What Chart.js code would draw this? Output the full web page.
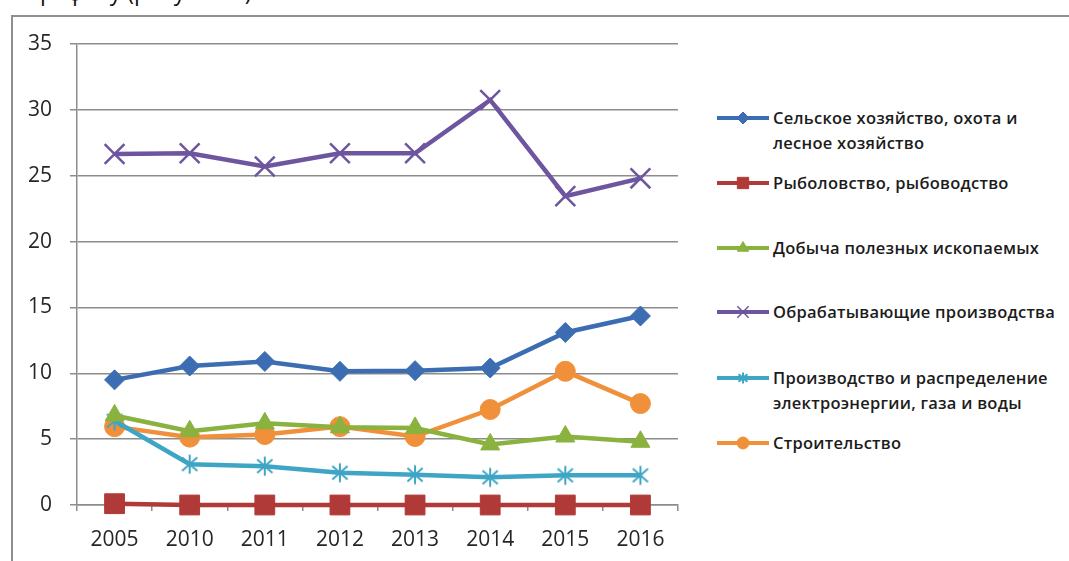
<!DOCTYPE html>
<html>
<head>
<meta charset="utf-8">
<script src="https://cdn.jsdelivr.net/npm/chart.js@4/dist/chart.umd.min.js"></script>
<style>
    html, body { margin: 0; padding: 0; background: #fff; }
    body { width: 1069px; height: 561px; position: relative; overflow: hidden; font-family: 'Open Sans', sans-serif; }
    #topText { position: absolute; left: 30px; top: -25px; font-size: 23px; color: #111; white-space: nowrap; }
    #frame { position: absolute; left: 11px; top: 15px; width: 1100px; height: 600px;
        border-top: 2px solid #8f8f8f; border-left: 2px solid #8f8f8f; }
    #chartBox { position: absolute; left: 0; top: 0; width: 700px; height: 561px; }
    #legend { position: absolute; left: 0; top: 0; }
    .item { position: absolute; left: 716px; display: flex; align-items: flex-start; }
    .item canvas { display: block; margin-top: 2px; }
    .item span { margin-left: 3px; font-size: 16.5px; letter-spacing: 0.25px; font-weight: 600; line-height: 25px; color: #1c1c1c; white-space: nowrap; }
</style>
</head>
<body>
<div id="topText">графику (рисунок 1)</div>
<div id="frame"></div>
<div id="chartBox"><canvas id="myChart" width="700" height="561"></canvas></div>
<div id="legend"></div>
<script>
//Данные
var years = ['2005', '2010', '2011', '2012', '2013', '2014', '2015', '2016'];

var selskoe = [9.5, 10.55, 10.9, 10.15, 10.2, 10.4, 13.1, 14.35];
var rybolov = [0.1, 0, 0, 0, 0, 0, 0, 0];
var dobycha = [6.8, 5.6, 6.2, 5.9, 5.85, 4.6, 5.2, 4.8];
var obrabat = [26.65, 26.7, 25.7, 26.7, 26.7, 30.75, 23.45, 24.8];
var energia = [6.4, 3.1, 2.95, 2.45, 2.3, 2.1, 2.25, 2.25];
var stroit = [5.95, 5.15, 5.35, 5.95, 5.2, 7.25, 10.15, 7.7];

var names = [
    ['Сельское хозяйство, охота и', 'лесное хозяйство'],
    ['Рыболовство, рыбоводство'],
    ['Добыча полезных ископаемых'],
    ['Обрабатывающие производства'],
    ['Производство и распределение', 'электроэнергии, газа и воды'],
    ['Строительство']
];

var yTicks = [0, 5, 10, 15, 20, 25, 30, 35];

//Звездочка как в Excel (крест + вертикальная линия)
function starMarker(color, size) {
    var c = document.createElement('canvas');
    c.width = size;
    c.height = size;
    var g = c.getContext('2d');
    var h = size / 2, r = size / 2 - 1.5;
    g.strokeStyle = color;
    g.lineWidth = 2;
    g.beginPath();
    g.moveTo(h - r * 0.8, h - r * 0.7); g.lineTo(h + r * 0.8, h + r * 0.7);
    g.moveTo(h + r * 0.8, h - r * 0.7); g.lineTo(h - r * 0.8, h + r * 0.7);
    g.moveTo(h, h - r); g.lineTo(h, h + r);
    g.stroke();
    return c;
}

var series = [
    { data: selskoe, color: '#3c6db2', style: 'rectRot', r: 10, lr: 6 },
    { data: rybolov, color: '#b03a37', style: 'rect', r: 14, lr: 8 },
    { data: dobycha, color: '#8ab23f', style: 'triangle', r: 11, lr: 6.5 },
    { data: obrabat, color: '#6e55a0', style: 'crossRot', r: 14, lr: 8 },
    { data: energia, color: '#3ea5c4', style: 'star', r: 10, lr: 6 },
    { data: stroit, color: '#f0903a', style: 'circle', r: 10, lr: 6 }
];

var datasets = series.map(function (s, i) {
    var ps = s.style === 'star' ? starMarker(s.color, 22) : s.style;
    return {
        label: names[i].join(' '),
        data: s.data,
        borderColor: s.color,
        backgroundColor: s.color,
        borderWidth: 4.5,
        pointStyle: ps,
        pointRadius: s.r,
        pointBorderWidth: s.style === 'crossRot' ? 2.5 : 1,
        pointBackgroundColor: s.color,
        pointBorderColor: s.color,
        tension: 0,
        clip: false
    };
});

var gridColor = '#8c8c8c';
var tickFont = { family: 'Open Sans', size: 21 };

var ctx = document.getElementById('myChart').getContext('2d');
new Chart(ctx, {
    type: 'line',
    data: { labels: years, datasets: datasets },
    options: {
        responsive: false,
        animation: false,
        events: [],
        layout: { padding: { top: 44, right: 22, left: 0, bottom: 0 } },
        plugins: { legend: { display: false }, tooltip: { enabled: false } },
        scales: {
            x: {
                offset: true,
                grid: { offset: true, drawOnChartArea: false, color: gridColor, lineWidth: 1.5, tickLength: 6 },
                border: { color: gridColor, width: 1.5 },
                ticks: { font: tickFont, color: '#262626', padding: 16, maxRotation: 0 },
                afterFit: function (scale) { scale.height = 56; }
            },
            y: {
                min: 0,
                max: 35,
                afterBuildTicks: function (scale) {
                    scale.ticks = yTicks.map(function (v) { return { value: v }; });
                },
                grid: { color: gridColor, lineWidth: 1.5, tickLength: 7 },
                border: { color: gridColor, width: 1.5 },
                ticks: { font: tickFont, color: '#262626', padding: 18 },
                afterFit: function (scale) { scale.width = 77; }
            }
        }
    }
});

//Легенда
var legendTops = [105, 170, 235, 299, 365, 430];
var legend = document.getElementById('legend');
series.forEach(function (s, i) {
    var item = document.createElement('div');
    item.className = 'item';
    item.style.top = legendTops[i] + 'px';
    var c = document.createElement('canvas');
    c.width = 54;
    c.height = 22;
    var g = c.getContext('2d');
    g.strokeStyle = s.color;
    g.lineWidth = 4;
    g.beginPath();
    g.moveTo(1, 11);
    g.lineTo(53, 11);
    g.stroke();
    g.fillStyle = s.color;
    g.strokeStyle = s.color;
    g.lineWidth = s.style === 'crossRot' ? 1.5 : 1;
    var ps = s.style === 'star' ? starMarker(s.color, 14) : s.style;
    Chart.helpers.drawPoint(g, { pointStyle: ps, radius: s.lr, rotation: 0, borderWidth: g.lineWidth }, 27, 11);
    item.appendChild(c);
    var t = document.createElement('span');
    t.innerHTML = names[i].join('<br>');
    item.appendChild(t);
    legend.appendChild(item);
});
</script>
</body>
</html>
